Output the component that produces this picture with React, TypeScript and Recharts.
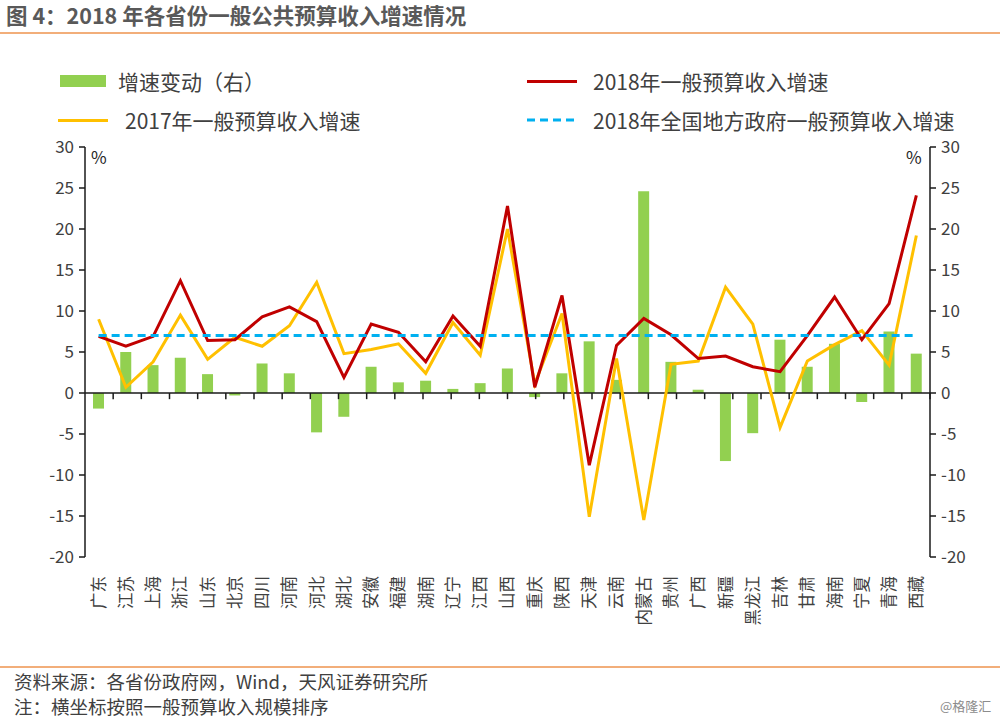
import React from "react";
import {
  ComposedChart,
  Bar,
  Line,
  XAxis,
  YAxis,
  ReferenceLine,
} from "recharts";

const provinces = [
  "广东", "江苏", "上海", "浙江", "山东", "北京", "四川", "河南", "河北", "湖北",
  "安徽", "福建", "湖南", "辽宁", "江西", "山西", "重庆", "陕西", "天津", "云南",
  "内蒙古", "贵州", "广西", "新疆", "黑龙江", "吉林", "甘肃", "海南", "宁夏", "青海", "西藏",
];

const growth2018 = [
  6.9, 5.7, 6.9, 13.7, 6.4, 6.5, 9.3, 10.5, 8.7, 1.9,
  8.4, 7.4, 3.8, 9.4, 5.7, 22.8, 0.7, 11.9, -8.8, 5.8,
  9.1, 7.1, 4.2, 4.5, 3.2, 2.6, 7.0, 11.7, 6.5, 10.9, 24.1,
];

const growth2017 = [
  9.0, 0.7, 3.8, 9.5, 4.1, 6.8, 5.7, 8.2, 13.5, 4.8,
  5.3, 6.0, 2.4, 8.6, 4.6, 20.0, 1.1, 9.7, -15.1, 4.2,
  -15.5, 3.5, 3.9, 12.9, 8.4, -4.2, 3.9, 5.9, 7.6, 3.4, 19.2,
];

const growthChange = [
  -1.9, 5.0, 3.4, 4.3, 2.3, -0.3, 3.6, 2.4, -4.8, -2.9,
  3.2, 1.3, 1.5, 0.5, 1.2, 3.0, -0.5, 2.4, 6.3, 1.6,
  24.6, 3.8, 0.4, -8.3, -4.9, 6.5, 3.2, 6.0, -1.1, 7.5, 4.8,
];

const nationalGrowth2018 = 7.0;

const yTicks = [-20, -15, -10, -5, 0, 5, 10, 15, 20, 25, 30];

const data = provinces.map((name, i) => ({
  name,
  change: growthChange[i],
  g2018: growth2018[i],
  g2017: growth2017[i],
  national: nationalGrowth2018,
}));

const boundaries = provinces.slice(1).map((_, i) => i + 1);

const FONT = '"Noto Sans CJK SC", "Noto Sans", sans-serif';
const TEXT = "#404040";

const XTick = (props: any) => {
  const { x, y, payload } = props;
  return (
    <g transform={`translate(${x},${y})`}>
      <text
        transform="rotate(-90)"
        x={-11}
        y={0}
        dy="0.36em"
        textAnchor="end"
        fontSize={16.5}
        fill={TEXT}
        fontFamily={FONT}
      >
        {payload.value}
      </text>
    </g>
  );
};

const legendText: React.CSSProperties = {
  position: "absolute",
  fontSize: 21,
  color: TEXT,
  fontFamily: FONT,
  lineHeight: "26px",
  whiteSpace: "nowrap",
};

export default function App() {
  return (
    <div
      style={{
        position: "absolute",
        left: 0,
        top: 0,
        width: 1000,
        height: 718,
        background: "#fff",
        fontFamily: FONT,
        overflow: "hidden",
      }}
    >
      <div
        style={{
          position: "absolute",
          left: 6,
          top: 2,
          fontSize: 21.5,
          fontWeight: 700,
          color: "#595959",
          lineHeight: "26px",
          whiteSpace: "nowrap",
        }}
      >
        图 4：2018 年各省份一般公共预算收入增速情况
      </div>
      <div
        style={{
          position: "absolute",
          left: 0,
          top: 32,
          width: 1000,
          height: 2,
          background: "#F2AE7A",
        }}
      />

      {/* legend */}
      <div
        style={{
          position: "absolute",
          left: 60,
          top: 75,
          width: 46,
          height: 12,
          background: "#92D050",
        }}
      />
      <div style={{ ...legendText, left: 118, top: 68 }}>增速变动（右）</div>
      <div
        style={{
          position: "absolute",
          left: 527,
          top: 80,
          width: 50,
          height: 3,
          background: "#C00000",
        }}
      />
      <div style={{ ...legendText, left: 593, top: 68 }}>2018年一般预算收入增速</div>
      <div
        style={{
          position: "absolute",
          left: 58,
          top: 119,
          width: 50,
          height: 3,
          background: "#FFC000",
        }}
      />
      <div style={{ ...legendText, left: 125, top: 107 }}>2017年一般预算收入增速</div>
      <svg
        style={{ position: "absolute", left: 527, top: 116 }}
        width={52}
        height={8}
      >
        <line
          x1={0}
          y1={4}
          x2={52}
          y2={4}
          stroke="#00B0F0"
          strokeWidth={3}
          strokeDasharray="8 5"
        />
      </svg>
      <div style={{ ...legendText, left: 593, top: 107 }}>
        2018年全国地方政府一般预算收入增速
      </div>

      <div style={{ position: "absolute", left: 0, top: 0 }}>
        <ComposedChart
          width={1000}
          height={718}
          data={data}
          margin={{ top: 147, right: 0, bottom: 101, left: 0 }}
          barSize={11}
        >
          <XAxis
            xAxisId="cat"
            dataKey="name"
            interval={0}
            axisLine={false}
            tickLine={false}
            height={60}
            tick={<XTick />}
          />
          <XAxis
            xAxisId="num"
            type="number"
            domain={[0, provinces.length]}
            hide
          />
          <YAxis
            yAxisId="left"
            domain={[-20, 30]}
            ticks={yTicks}
            interval={0}
            width={85}
            allowDataOverflow
            axisLine={{ stroke: "#1a1a1a", strokeWidth: 1.5 }}
            tickLine={{ stroke: "#1a1a1a", strokeWidth: 1.5 }}
            tickSize={6}
            tickMargin={5}
            tick={{ fontSize: 17, fill: TEXT, fontFamily: FONT }}
          />
          <YAxis
            yAxisId="right"
            orientation="right"
            domain={[-20, 30]}
            ticks={yTicks}
            interval={0}
            width={70}
            allowDataOverflow
            axisLine={{ stroke: "#1a1a1a", strokeWidth: 1.5 }}
            tickLine={{ stroke: "#1a1a1a", strokeWidth: 1.5 }}
            tickSize={6}
            tickMargin={5}
            tick={{ fontSize: 17, fill: TEXT, fontFamily: FONT }}
          />
          <Bar
            xAxisId="cat"
            yAxisId="right"
            dataKey="change"
            fill="#92D050"
            isAnimationActive={false}
          />
          <ReferenceLine
            xAxisId="cat"
            yAxisId="left"
            y={0}
            stroke="#1a1a1a"
            strokeWidth={1.5}
          />
          {boundaries.map((k) => (
            <ReferenceLine
              key={k}
              xAxisId="num"
              yAxisId="left"
              segment={[
                { x: k, y: 0 },
                { x: k, y: -0.75 },
              ]}
              stroke="#1a1a1a"
              strokeWidth={1.5}
            />
          ))}
          <Line
            xAxisId="cat"
            yAxisId="left"
            dataKey="g2017"
            stroke="#FFC000"
            strokeWidth={3}
            dot={false}
            isAnimationActive={false}
          />
          <Line
            xAxisId="cat"
            yAxisId="left"
            dataKey="g2018"
            stroke="#C00000"
            strokeWidth={3}
            dot={false}
            isAnimationActive={false}
          />
          <Line
            xAxisId="cat"
            yAxisId="left"
            dataKey="national"
            stroke="#00B0F0"
            strokeWidth={3}
            strokeDasharray="8 5"
            dot={false}
            isAnimationActive={false}
          />
        </ComposedChart>
      </div>

      <div
        style={{
          position: "absolute",
          left: 91,
          top: 144,
          fontSize: 17,
          color: "#262626",
          fontFamily: FONT,
        }}
      >
        %
      </div>
      <div
        style={{
          position: "absolute",
          left: 906,
          top: 144,
          fontSize: 17,
          color: "#262626",
          fontFamily: FONT,
        }}
      >
        %
      </div>

      <div
        style={{
          position: "absolute",
          left: 0,
          top: 666,
          width: 1000,
          height: 2,
          background: "#F2AE7A",
        }}
      />
      <div
        style={{
          position: "absolute",
          left: 14,
          top: 670,
          fontSize: 18.5,
          color: TEXT,
          lineHeight: "23px",
          whiteSpace: "nowrap",
        }}
      >
        资料来源：各省份政府网，Wind，天风证券研究所
      </div>
      <div
        style={{
          position: "absolute",
          left: 14,
          top: 695,
          fontSize: 18.5,
          color: TEXT,
          lineHeight: "23px",
          whiteSpace: "nowrap",
        }}
      >
        注：横坐标按照一般预算收入规模排序
      </div>
      <div
        style={{
          position: "absolute",
          left: 940,
          top: 697,
          fontSize: 13,
          color: "#8c8c8c",
          lineHeight: "18px",
          whiteSpace: "nowrap",
        }}
      >
        @格隆汇
      </div>
    </div>
  );
}
